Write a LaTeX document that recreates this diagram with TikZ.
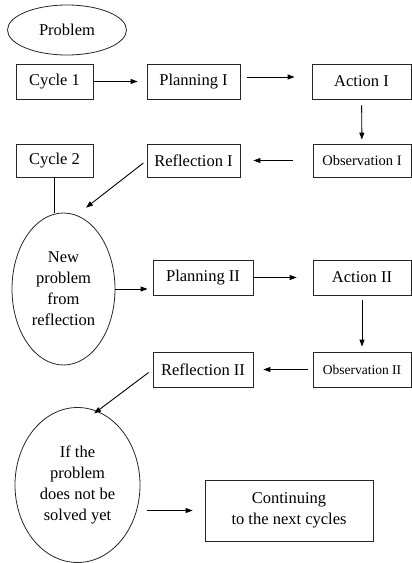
\documentclass[tikz,border=0pt]{standalone}
\usepackage{fontspec}
\setmainfont{Liberation Serif}
\usetikzlibrary{arrows.meta,shapes.geometric}
\begin{document}
\begin{tikzpicture}[x=1pt,y=-1pt,
  box/.style={draw=black!85,line width=0.8pt,rectangle,inner sep=0pt,minimum height=35pt,font=\fontsize{16.5}{19}\selectfont,text=black},
  oval/.style={draw=black!85,line width=0.8pt,ellipse,inner sep=0pt,align=center,font=\fontsize{16.5}{21}\selectfont,text=black},
  arr/.style={-{Triangle[length=7pt,width=5pt]},line width=0.9pt,black}
]
\useasboundingbox (0,0) rectangle (412,563);
\node[oval,minimum width=119pt,minimum height=50pt] (prob) at (67,30) {Problem};
\node[box,minimum width=77pt] (cyc1) at (54.5,81.5) {Cycle 1};
\node[box,minimum width=93pt] (plan1) at (193.5,81.5) {Planning I};
\node[box,minimum width=99pt] (act1) at (361.5,81.5) {Action I};
\node[box,minimum width=77pt,minimum height=33pt] (cyc2) at (54.5,160.5) {Cycle 2};
\node[box,minimum width=93pt,minimum height=33pt] (refl1) at (193.5,160.5) {Reflection I};
\node[box,minimum width=98pt,minimum height=33pt,font=\fontsize{14.5}{16}\selectfont] (obs1) at (362,160.5) {Observation I};
\node[oval,minimum width=103pt,minimum height=152pt] (newp) at (63.5,289) {New\\problem\\from\\reflection};
\node[box,minimum width=100pt] (plan2) at (203,277.5) {Planning II};
\node[box,minimum width=98pt] (act2) at (362,277.5) {Action II};
\node[box,minimum width=100pt] (refl2) at (203,369.5) {Reflection II};
\node[box,minimum width=98pt,font=\fontsize{13.5}{15}\selectfont] (obs2) at (362,369.5) {Observation II};
\node[oval,minimum width=125pt,minimum height=155pt] (ifn) at (77.5,485) {If the\\problem\\does not be\\solved yet};
\node[box,minimum width=168pt,minimum height=61pt,align=center,font=\fontsize{16.5}{21}\selectfont] (cont) at (289,510.5) {Continuing\\to the next cycles};

\draw[arr,shorten >=9pt] (cyc1) -- (plan1);
\draw[arr,shorten <=7pt,shorten >=17pt] (plan1.east |- 0,77) -- (act1.west |- 0,77);
\draw[arr,shorten <=6pt,shorten >=4pt] (act1) -- (obs1);
\draw[arr,shorten <=20pt,shorten >=13pt] (obs1) -- (refl1);
\draw[arr,shorten <=4pt,shorten >=12pt] (refl1.west) -- (newp.80);
\draw[line width=0.8pt] (cyc2.south) -- (newp.north -| cyc2.south);
\draw[arr,shorten >=5pt] (newp) -- (newp -| plan2.west);
\draw[arr,shorten >=16pt] (plan2) -- (act2);
\draw[arr,shorten <=5pt,shorten >=5pt] (act2) -- (obs2);
\draw[arr,shorten <=5pt,shorten >=10pt] (obs2) -- (refl2);
\draw[arr,shorten <=5pt,shorten >=-4pt] (refl2.west) -- (ifn.75);
\draw[arr,shorten <=7pt,shorten >=12pt] (cont.west -| ifn.east) -- (cont.west);
\end{tikzpicture}
\end{document}
